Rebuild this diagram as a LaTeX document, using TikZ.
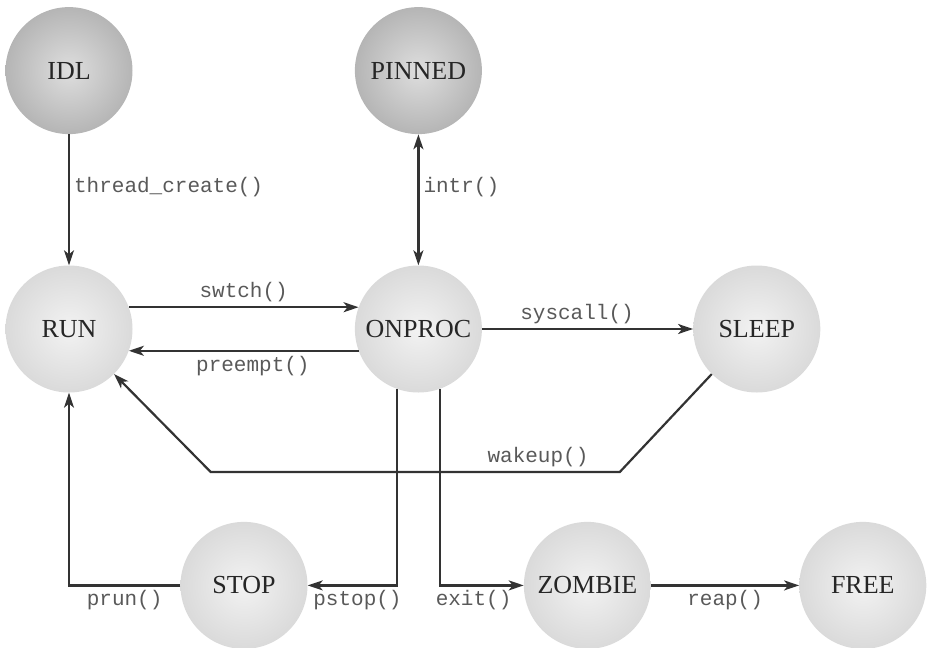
\documentclass[tikz,border=0pt]{standalone}
\usepackage{fontspec}
\setmainfont{Liberation Serif}
\setmonofont{Liberation Mono}
\usetikzlibrary{positioning,arrows.meta}
\pgfdeclareradialshading{lightball}{\pgfpoint{0bp}{0bp}}{color(0bp)=(black!5); color(50bp)=(black!24)}
\pgfdeclareradialshading{darkball}{\pgfpoint{0bp}{0bp}}{color(0bp)=(black!13); color(50bp)=(black!45)}

\begin{document}
\begin{tikzpicture}[
  font=\fontsize{26}{28}\selectfont,
  pstate/.style={
    circle, minimum size=127pt, inner sep=0pt,
    shading=lightball, text=black!85
  },
  darkstate/.style={
    pstate, shading=darkball
  },
  trans/.style={
    draw=black!80, line width=2.2pt,
    -{Stealth[length=15pt,width=10pt,inset=4pt]}
  },
  call/.style={
    font=\fontsize{21}{23}\selectfont\ttfamily,
    text=black!65, inner sep=4pt
  }
]
\useasboundingbox (0,0) rectangle (940pt,-648pt);

% states
\node[pstate] (run) at (69pt,-329pt) {RUN};
\node[darkstate, above=131pt of run] (idl) {IDL};
\node[pstate, right=222pt of run] (onproc) {ONPROC};
\node[darkstate, above=131pt of onproc] (pinned) {PINNED};
\node[pstate, right=211pt of onproc] (sleep) {SLEEP};
\node[pstate, below=129pt of run, xshift=175pt] (stop) {STOP};
\node[pstate, right=216pt of stop] (zombie) {ZOMBIE};
\node[pstate, right=148pt of zombie] (free) {FREE};

% transitions
\draw[trans] (idl) -- node[call, right, pos=0.4] {thread\_create()} (run);
\draw[trans, {Stealth[length=15pt,width=10pt,inset=4pt]}-{Stealth[length=15pt,width=10pt,inset=4pt]}]
  (pinned) -- node[call, right, pos=0.4] {intr()} (onproc);
\draw[trans] (run.20) -- node[call, above, pos=0.5] {swtch()} (onproc.160);
\draw[trans] (onproc.200) -- node[call, below, pos=0.46] {preempt()} (run.340);
\draw[trans] (onproc) -- node[call, above, pos=0.45] {syscall()} (sleep);
\draw[trans] (sleep.225) -- ++(-92pt,-98pt)
  -- ++(-409pt,0) node[call, above, pos=0.2] {wakeup()} -- (run.315);
\draw[trans] (onproc.250) |- node[call, below, pos=0.72] {pstop()} (stop);
\draw[trans] (onproc.290) |- node[call, below, pos=0.7] {exit()} (zombie);
\draw[trans] (stop) -| node[call, below, pos=0.25] {prun()} (run);
\draw[trans] (zombie) -- node[call, below] {reap()} (free);

\end{tikzpicture}
\end{document}
